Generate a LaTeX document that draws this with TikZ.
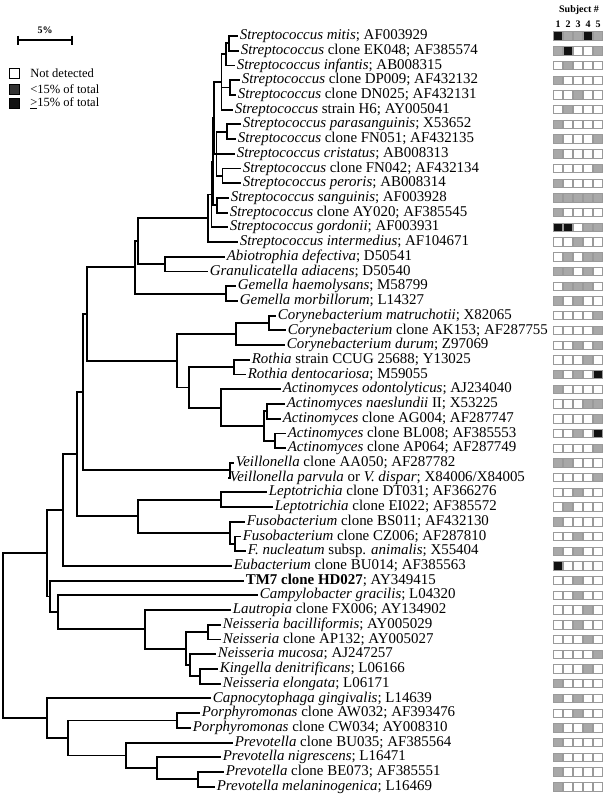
\documentclass[tikz,border=0pt]{standalone}
\usepackage{fontspec}
\setmainfont{Liberation Serif}
\usetikzlibrary{calc}
\definecolor{Cell0}{HTML}{FFFFFF}
\definecolor{Cell1}{HTML}{A8A8A8}
\definecolor{Cell2}{HTML}{111111}
\definecolor{Rim}{HTML}{9A9A9A}
\definecolor{LegGray}{HTML}{333333}
\newcommand\rowy[1]{36+(#1-1)*14.72}

\begin{document}
\begin{tikzpicture}[x=0.75pt,y=-0.75pt,
  branch/.style={line width=1.4pt},
  leaf/.style={anchor=west,inner xsep=1.2pt,inner ysep=0pt,text height=7.8pt,text depth=2.4pt,font=\fontsize{11.2}{12}\selectfont},
  cell/.style={draw=Rim,line width=0.6pt,minimum size=6.3pt,inner sep=0pt},
  legbox/.style={draw=black,line width=0.6pt,minimum size=7.6pt,inner sep=0pt},
  legtext/.style={anchor=west,inner sep=0pt,font=\fontsize{9.4}{11}\selectfont},
  hdr/.style={inner sep=0pt,font=\bfseries\fontsize{7.5}{9}\selectfont}]
\useasboundingbox (0,0) rectangle (609,800);

% scale bar and legend
\coordinate (sbl) at (18,40);
\coordinate (sbr) at (72,40);
\draw[branch] (sbl) -- (sbr);
\draw[branch] (18,35.5) -- (18,44.5) (72,35.5) -- (72,44.5);
\node[hdr] (sbtext) at (45,30) {5\%};
\node[legbox,fill=Cell0] (lg0) at (14.5,73.5) {};
\node[legbox,fill=LegGray] (lg1) at (14.5,89) {};
\node[legbox,fill=Cell2] (lg2) at (14.5,103.5) {};
\node[legtext] (lt0) at (30,73.5) {Not detected};
\node[legtext] (lt1) at (30,89) {<15\% of total};
\node[legtext] (lt2) at (30,103.5) {\underline{>}15\% of total};

% taxa
\foreach \nm/\xx/\lab [count=\i] in {
  smitis/238/{\textit{Streptococcus mitis}; AF003929},
  sek/239/{\textit{Streptococcus} clone EK048; AF385574},
  sinf/235/{\textit{Streptococcus infantis}; AB008315},
  sdp/240/{\textit{Streptococcus} clone DP009; AF432132},
  sdn/236/{\textit{Streptococcus} clone DN025; AF432131},
  shs/233/{\textit{Streptococcus} strain H6; AY005041},
  spar/241/{\textit{Streptococcus parasanguinis}; X53652},
  sfn051/236/{\textit{Streptococcus} clone FN051; AF432135},
  scri/235/{\textit{Streptococcus cristatus}; AB008313},
  sfn042/241/{\textit{Streptococcus} clone FN042; AF432134},
  sper/241/{\textit{Streptococcus peroris}; AB008314},
  ssan/229/{\textit{Streptococcus sanguinis}; AF003928},
  say/228/{\textit{Streptococcus} clone AY020; AF385545},
  sgor/228/{\textit{Streptococcus gordonii}; AF003931},
  sint/238/{\textit{Streptococcus intermedius}; AF104671},
  abio/225/{\textit{Abiotrophia defectiva}; D50541},
  gran/208/{\textit{Granulicatella adiacens}; D50540},
  ghae/236/{\textit{Gemella haemolysans}; M58799},
  gmor/238/{\textit{Gemella morbillorum}; L14327},
  cmat/276/{\textit{Corynebacterium matruchotii}; X82065},
  cak/286/{\textit{Corynebacterium} clone AK153; AF287755},
  cdur/285/{\textit{Corynebacterium durum}; Z97069},
  rccug/250/{\textit{Rothia} strain CCUG 25688; Y13025},
  rden/246/{\textit{Rothia dentocariosa}; M59055},
  aodo/281/{\textit{Actinomyces odontolyticus}; AJ234040},
  anae/285/{\textit{Actinomyces naeslundii} II; X53225},
  aag/281/{\textit{Actinomyces} clone AG004; AF287747},
  abl/286/{\textit{Actinomyces} clone BL008; AF385553},
  aap/286/{\textit{Actinomyces} clone AP064; AF287749},
  vaa/234/{\textit{Veillonella} clone AA050; AF287782},
  vpar/228/{\textit{Veillonella parvula} or \textit{V. dispar}; X84006/X84005},
  ldt/267/{\textit{Leptotrichia} clone DT031; AF366276},
  lei/273/{\textit{Leptotrichia} clone EI022; AF385572},
  fbs/245/{\textit{Fusobacterium} clone BS011; AF432130},
  fcz/241/{\textit{Fusobacterium} clone CZ006; AF287810},
  fnuc/246/{\textit{F. nucleatum} subsp. \textit{animalis}; X55404},
  eubu/232/{\textit{Eubacterium} clone BU014; AF385563},
  tmhd/244/{\textbf{TM7 clone HD027}; AY349415},
  cgra/258/{\textit{Campylobacter gracilis}; L04320},
  lfx/231/{\textit{Lautropia} clone FX006; AY134902},
  nbac/221/{\textit{Neisseria bacilliformis}; AY005029},
  nap/221/{\textit{Neisseria} clone AP132; AY005027},
  nmuc/216/{\textit{Neisseria mucosa}; AJ247257},
  kden/218/{\textit{Kingella denitrificans}; L06166},
  nelo/221/{\textit{Neisseria elongata}; L06171},
  cgin/211/{\textit{Capnocytophaga gingivalis}; L14639},
  paw/200/{\textit{Porphyromonas} clone AW032; AF393476},
  pcw/191/{\textit{Porphyromonas} clone CW034; AY008310},
  pbu/233/{\textit{Prevotella} clone BU035; AF385564},
  pnig/221/{\textit{Prevotella nigrescens}; L16471},
  pbe/224/{\textit{Prevotella} clone BE073; AF385551},
  pmel/215/{\textit{Prevotella melaninogenica}; L16469}}
  \node[leaf] (\nm) at (\xx,{\rowy{\i}}) {\lab};

% inner nodes of the tree: name/x/first child/last child
\foreach \nm/\xx/\ca/\cb in {nA/229/smitis/sek, nB/226/nA/sinf, nC/230/sdp/sdn,
  nD/221.5/nB/shs, nE/227/spar/sfn051, nF/222.5/sfn042/sper, nG/216.5/nE/nF,
  nH/214/nD/nG, nI/217/ssan/say, nJ/213/nH/nI, nK/211.5/nJ/sgor, strep/208/nK/sint,
  abgr/165/abio/gran, sag/138.3/strep/abgr, gem/226/ghae/gmor, bacil/135/sag/gem,
  coA/269.3/cmat/cak, cory/236/coA/cdur, roth/234.3/rccug/rden, acA/267.3/anae/aag,
  acB/275/abl/aap, acC/264.3/acA/acB, actm/221/aodo/acC, ract/189.3/roth/actm,
  actb/176.7/cory/ract, fiac/87.3/bacil/actb, veil/230/vaa/vpar, five/83.3/fiac/veil,
  lept/221/ldt/lei, fuA/235/fcz/fnuc, fuso/230/fbs/fuA, lefu/138.3/lept/fuso,
  upA/76.7/five/lefu, upB/63.3/upA/eubu, neA/208.3/nbac/nap, neB/200/kden/nelo,
  neC/190/nmuc/neB, neis/186/neA/neC, beta/145/lfx/neis, cmpy/57.7/cgra/beta,
  tmc/50/tmhd/cmpy, upC/46.7/upB/tmc, porp/176.7/paw/pcw, prA/198/pbe/pmel,
  prB/156.7/pnig/prA, prC/126/pbu/prB, bacA/68.3/porp/prC, bact/46.7/cgin/bacA,
  root/3.3/upC/bact}
  \path let \p1=(\ca), \p2=(\cb) in ({\xx*0.75pt},{(\y1+\y2)/2}) coordinate (\nm);

\foreach \p/\c in {nA/smitis,nA/sek,nB/nA,nB/sinf,nC/sdp,nC/sdn,nD/nB,nD/nC,nD/shs,
  nE/spar,nE/sfn051,nF/sfn042,nF/sper,nG/nE,nG/scri,nG/nF,nH/nD,nH/nG,nI/ssan,nI/say,
  nJ/nH,nJ/nI,nK/nJ,nK/sgor,strep/nK,strep/sint,abgr/abio,abgr/gran,sag/strep,sag/abgr,
  gem/ghae,gem/gmor,bacil/sag,bacil/gem,coA/cmat,coA/cak,cory/coA,cory/cdur,
  roth/rccug,roth/rden,acA/anae,acA/aag,acB/abl,acB/aap,acC/acA,acC/acB,actm/aodo,
  actm/acC,ract/roth,ract/actm,actb/cory,actb/ract,fiac/bacil,fiac/actb,veil/vaa,
  veil/vpar,five/fiac,five/veil,lept/ldt,lept/lei,fuA/fcz,fuA/fnuc,fuso/fbs,fuso/fuA,
  lefu/lept,lefu/fuso,upA/five,upA/lefu,upB/upA,upB/eubu,neA/nbac,neA/nap,neB/kden,
  neB/nelo,neC/nmuc,neC/neB,neis/neA,neis/neC,beta/lfx,beta/neis,cmpy/cgra,cmpy/beta,
  tmc/tmhd,tmc/cmpy,upC/upB,upC/tmc,porp/paw,porp/pcw,prA/pbe,prA/pmel,prB/pnig,
  prB/prA,prC/pbu,prC/prB,bacA/porp,bacA/prC,bact/cgin,bact/bacA,root/upC,root/bact}
  \draw[branch] (\p) |- (\c);

% subjects
\node[hdr] (subj) at (579,10) {Subject \#};
\foreach \j in {1,...,5}
  \node[hdr] (col\j) at ({548+10*\j},24) {\j};
\foreach \row [count=\i] in {{2,1,1,2,1},{1,2,0,0,1},{0,1,0,0,0},{1,0,0,0,0},{0,0,1,0,0},
  {0,1,0,0,0},{1,0,0,0,0},{1,0,0,0,1},{1,0,0,0,0},{0,0,0,0,1},{1,0,0,0,0},{1,1,1,1,1},
  {1,0,0,0,0},{2,2,0,1,1},{0,0,1,0,0},{0,1,0,1,1},{1,1,0,1,0},{0,1,1,1,0},{1,0,1,0,0},
  {0,0,0,0,1},{0,0,0,0,1},{0,0,1,0,1},{0,0,0,1,0},{1,0,1,0,2},{1,0,0,0,0},{0,0,0,1,1},
  {0,0,0,0,1},{0,0,1,0,2},{0,0,0,0,1},{1,1,0,0,0},{0,0,0,0,1},{0,0,1,0,0},{0,1,0,0,0},
  {1,0,0,0,0},{0,0,1,0,0},{1,0,1,0,0},{2,0,0,0,0},{0,0,1,0,0},{0,0,1,0,0},{0,0,0,1,0},
  {0,0,1,0,0},{0,0,0,1,0},{0,0,0,0,1},{0,0,0,1,0},{1,0,0,0,0},{1,0,1,0,0},{0,0,1,0,0},
  {1,0,0,1,0},{1,0,0,0,0},{1,0,0,0,0},{1,0,0,0,0},{1,0,0,0,0}}
  \foreach \v [count=\j] in \row
    \node[cell,fill=Cell\v] (h\i-\j) at ({548+10*\j},{\rowy{\i}}) {};
\end{tikzpicture}
\end{document}
